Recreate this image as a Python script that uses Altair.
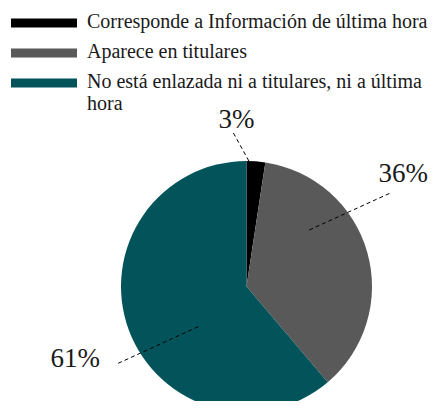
import math
import altair as alt
import pandas as pd

# --- data ---
categories = [
    "Corresponde a Información de última hora",
    "Aparece en titulares",
    "No está enlazada ni a titulares, ni a última hora",
]
values = [2.4, 36.4, 61.2]
colors = ["#000000", "#595959", "#02535a"]

# percentage labels and their placement around the pie (degrees clockwise from top, radius in px)
label_texts = ["3%", "36%", "61%"]
label_angle = [-3.4, 54.3, 247.1]
label_radius = [167, 193, 186]

# dashed leader lines (start/end angle and radius)
lead_a1 = [1.1, 48.0, 230.2]
lead_r1 = [125.5, 84.5, 62.8]
lead_a2 = [-5.1, 57.0, 239.2]
lead_r2 = [155.4, 172.0, 151.9]

# layout constants
CX, CY, R = 238.5, 278.5, 125.5
W, H = 429, 393
FONT = "Liberation Serif"

pie_df = pd.DataFrame({"cat": categories, "value": values, "order": list(range(len(values)))})


def px(a, r):
    return CX + r * math.sin(math.radians(a))


def py(a, r):
    return CY - r * math.cos(math.radians(a))


lab_df = pd.DataFrame({
    "text": label_texts,
    "x": [px(a, r) for a, r in zip(label_angle, label_radius)],
    "y": [py(a, r) for a, r in zip(label_angle, label_radius)],
})
lead_df = pd.DataFrame({
    "x": [px(a, r) for a, r in zip(lead_a1, lead_r1)],
    "y": [py(a, r) for a, r in zip(lead_a1, lead_r1)],
    "x2": [px(a, r) for a, r in zip(lead_a2, lead_r2)],
    "y2": [py(a, r) for a, r in zip(lead_a2, lead_r2)],
})

label_expr = (
    "datum.label == 'No está enlazada ni a titulares, ni a última hora' ? "
    "['No está enlazada ni a titulares, ni a última', 'hora'] : datum.label"
)

pie = alt.Chart(pie_df).mark_arc(outerRadius=R, clip=True).encode(
    theta=alt.Theta("value:Q", stack=True),
    order=alt.Order("order:Q"),
    x=alt.value(CX),
    y=alt.value(CY),
    color=alt.Color(
        "cat:N",
        scale=alt.Scale(domain=categories, range=colors),
        sort=categories,
        legend=alt.Legend(
            orient="none",
            legendX=26,
            legendY=10,
            title=None,
            padding=0,
            symbolType="M-3.3,-0.95L3.3,-0.95L3.3,-0.05L-3.3,-0.05Z",
            symbolSize=400,
            symbolStrokeWidth=0,
            labelFont=FONT,
            labelFontSize=20,
            labelColor="#1a1a1a",
            labelOffset=33,
            labelLimit=420,
            labelBaseline="alphabetic",
            rowPadding=10,
            labelExpr=label_expr,
        ),
    ),
)

labels = alt.Chart(lab_df).mark_text(
    font=FONT, fontSize=27, color="#1a1a1a", align="center", baseline="middle"
).encode(
    x=alt.X("x:Q", scale=None),
    y=alt.Y("y:Q", scale=None),
    text="text:N",
)

leaders = alt.Chart(lead_df).mark_rule(
    color="#000000", strokeWidth=1, strokeDash=[4, 3]
).encode(
    x=alt.X("x:Q", scale=None),
    y=alt.Y("y:Q", scale=None),
    x2="x2:Q",
    y2="y2:Q",
)

chart = alt.layer(pie, leaders, labels).properties(
    width=W, height=H, padding=0, autosize=alt.AutoSizeParams(type="none")
).configure_view(stroke=None)

chart.save("out.html", embed_options={"renderer": "svg", "actions": False})
